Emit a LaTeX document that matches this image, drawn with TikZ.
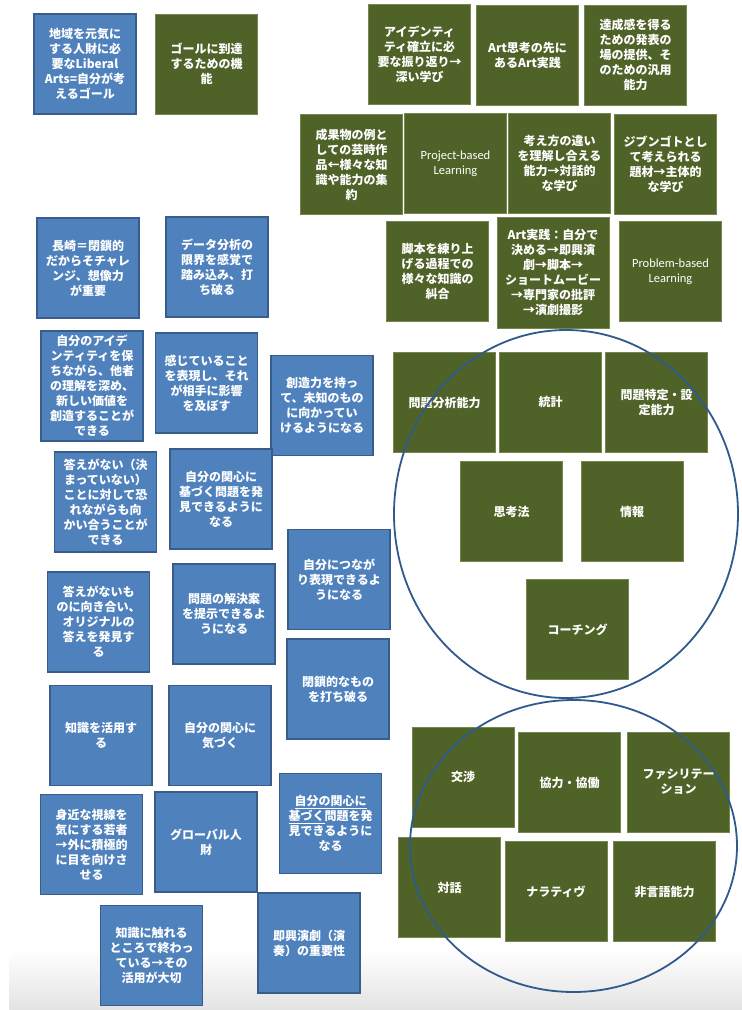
\documentclass[tikz,border=0pt]{standalone}
\usepackage{fontspec}
\setmainfont{Noto Sans CJK JP}
\newfontfamily\latinf{Carlito}
\definecolor{bfill}{HTML}{4F81BD}
\definecolor{bdraw}{HTML}{385D8A}
\definecolor{gfill}{HTML}{4F6228}
\definecolor{gdraw}{HTML}{76864F}
\definecolor{circ}{HTML}{2F5A8C}
\tikzset{
  card/.style={minimum width=102pt, minimum height=100pt, inner sep=0pt, align=center,
    text=white, font=\fontsize{12}{15}\selectfont\bfseries},
  bluebox/.style={card, fill=bfill, draw=bdraw, line width=1.5pt},
  greenbox/.style={card, fill=gfill, draw=gdraw, line width=0.6pt},
  latintext/.style={font=\fontsize{12.5}{15}\selectfont\latinf},
  ring/.style={draw=circ, line width=1.8pt},
}
\begin{document}
\begin{tikzpicture}[x=1pt,y=-1pt]
\useasboundingbox (0,0) rectangle (742,1010);
\fill[white] (0,0) rectangle (742,1010);
\fill[top color=white, bottom color=black!11] (9,950) rectangle (742,1010);

% blue boxes
\node[bluebox] (b1) at (85,64) {地域を元気に\\する人財に必\\要なLiberal\\Arts=自分が考\\えるゴール};
\node[bluebox] (b13) at (88,268) {長崎＝閉鎖的\\だからそチャレ\\ンジ、想像力\\が重要};
\node[bluebox] (b14) at (217,267) {データ分析の\\限界を感覚で\\踏み込み、打\\ち破る};
\node[bluebox, minimum height=110pt] (b15) at (92,386) {自分のアイデ\\ンティティを保\\ちながら、他者\\の理解を深め、\\新しい価値を\\創造することが\\できる};
\node[bluebox] (b16) at (206.5,383) {感じていること\\を表現し、それ\\が相手に影響\\を及ぼす};
\node[bluebox] (b17) at (322,405.5) {創造力を持っ\\て、未知のもの\\に向かってい\\けるようになる};
\node[bluebox] (b18) at (105.5,502) {答えがない（決\\まっていない）\\ことに対して恐\\れながらも向\\かい合うことが\\できる};
\node[bluebox] (b19) at (221,499) {自分の関心に\\基づく問題を発\\見できるように\\なる};
\node[bluebox] (b20) at (98.5,622) {答えがないも\\のに向き合い、\\オリジナルの\\答えを発見す\\る};
\node[bluebox] (b21) at (224,614) {問題の解決案\\を提示できるよ\\うになる};
\node[bluebox] (b22) at (339,579.5) {自分につなが\\り表現できるよ\\うになる};
\node[bluebox] (b23) at (338,689) {閉鎖的なもの\\を打ち破る};
\node[bluebox] (b24) at (101,735.5) {知識を活用す\\る};
\node[bluebox] (b25) at (220,735.5) {自分の関心に\\気づく};
\node[bluebox] (b26) at (91.5,844.5) {身近な視線を\\気にする若者\\→外に積極的\\に目を向けさ\\せる};
\node[bluebox] (b27) at (206,842) {グローバル人\\財};
\node[bluebox] (b28) at (330.5,823.5) {\underline{自分の関心に}\\\underline{基づく}問題を発\\見できるように\\なる};
\node[bluebox] (b29) at (151.5,955.5) {知識に触れる\\ところで終わっ\\ている→その\\活用が大切};
\node[bluebox] (b30) at (309,943) {即興演劇（演\\奏）の重要性};

% green boxes
\node[greenbox] (g2) at (206.5,64) {ゴールに到達\\するための機\\能};
\node[greenbox] (g3) at (419.5,54) {アイデンティ\\ティ確立に必\\要な振り返り→\\深い学び};
\node[greenbox] (g4) at (527.5,55) {Art思考の先に\\あるArt実践};
\node[greenbox] (g5) at (635.5,55) {達成感を得る\\ための発表の\\場の提供、そ\\のための汎用\\能力};
\node[greenbox] (g6) at (351.5,164.5) {成果物の例と\\しての芸時作\\品←様々な知\\識や能力の集\\約};
\node[greenbox, latintext] (g7) at (455.5,163.5) {Project-based\\Learning};
\node[greenbox] (g8) at (559.5,163.5) {考え方の違い\\を理解し合える\\能力→対話的\\な学び};
\node[greenbox] (g9) at (665.5,164.5) {ジブンゴトとし\\て考えられる\\題材→主体的\\な学び};
\node[greenbox] (g10) at (437.5,271) {脚本を練り上\\げる過程での\\様々な知識の\\糾合};
\node[greenbox, minimum width=112pt, minimum height=111pt] (g11) at (553,272.5) {Art実践：自分で\\決める→即興演\\劇→脚本→\\ショートムービー\\→専門家の批評\\→演劇撮影};
\node[greenbox, latintext] (g12) at (670.5,271.5) {Problem-based\\Learning};
\node[greenbox] (g31) at (444.5,402.5) {問題分析能力};
\node[greenbox] (g32) at (550.5,402) {統計};
\node[greenbox] (g33) at (656.5,402) {問題特定・設\\定能力};
\node[greenbox] (g34) at (511.5,511.5) {思考法};
\node[greenbox] (g35) at (632,511.5) {情報};
\node[greenbox] (g36) at (577.5,629.5) {コーチング};
\node[greenbox] (g37) at (463,777) {交渉};
\node[greenbox] (g38) at (569.5,782.5) {協力・協働};
\node[greenbox] (g39) at (678.5,782) {ファシリテー\\ション};
\node[greenbox] (g40) at (449.5,887.5) {対話};
\node[greenbox] (g41) at (556,891.5) {ナラティヴ};
\node[greenbox] (g42) at (664.5,891.5) {非言語能力};

% circles
\draw[ring] (566,514) ellipse [x radius=172, y radius=184];
\draw[ring] (573.5,846) ellipse [x radius=163.5, y radius=146];
\end{tikzpicture}
\end{document}
